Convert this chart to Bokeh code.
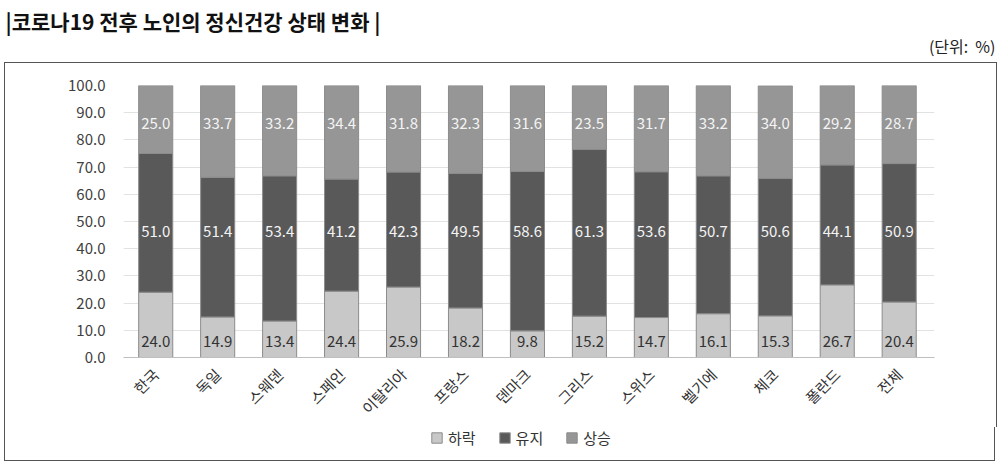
import math
from bokeh.plotting import figure
from bokeh.layouts import column
from bokeh.models import (Range1d, FixedTicker, NumeralTickFormatter, Label,
                          Legend, LegendItem, ColumnDataSource)
from bokeh.core.properties import value
from bokeh.embed import file_html
from bokeh.resources import INLINE

# 데이터
countries = ["한국", "독일", "스웨덴", "스페인", "이탈리아", "프랑스", "덴마크",
             "그리스", "스위스", "벨기에", "체코", "폴란드", "전체"]
down = [24.0, 14.9, 13.4, 24.4, 25.9, 18.2, 9.8, 15.2, 14.7, 16.1, 15.3, 26.7, 20.4]
keep = [51.0, 51.4, 53.4, 41.2, 42.3, 49.5, 58.6, 61.3, 53.6, 50.7, 50.6, 44.1, 50.9]
up = [25.0, 33.7, 33.2, 34.4, 31.8, 32.3, 31.6, 23.5, 31.7, 33.2, 34.0, 29.2, 28.7]
series = ["하락", "유지", "상승"]
colors = ["#c8c8c8", "#595959", "#969696"]
y_ticks = [0, 10, 20, 30, 40, 50, 60, 70, 80, 90, 100]

FONT = "Noto Sans CJK KR"
BORDER = "1px solid #555555"

# 제목 영역
head = figure(width=1000, height=62, x_range=Range1d(0, 1000), y_range=Range1d(0, 62),
              x_axis_type=None, y_axis_type=None, toolbar_location=None,
              output_backend="svg", min_border=0, frame_align=False)
head.outline_line_color = None
head.xgrid.visible = False
head.ygrid.visible = False
head.add_layout(Label(x=5, y=42, text="|코로나19 전후 노인의 정신건강 상태 변화 |",
                      text_font=FONT, text_font_size="21px", text_font_style="bold",
                      text_baseline="middle", text_color="#111111"))
head.add_layout(Label(x=995, y=17, text="(단위:\u00a0\u00a0%)", text_font=FONT,
                      text_font_size="16px", text_align="right",
                      text_baseline="middle", text_color="#222222"))

# 차트
idx = list(range(len(countries)))
src = ColumnDataSource(dict(x=idx, 하락=down, 유지=keep, 상승=up))

p = figure(frame_width=809, frame_height=271,
           x_range=Range1d(-0.52, len(countries) - 0.43), y_range=Range1d(0, 100),
           toolbar_location=None, output_backend="svg", frame_align=False,
           min_border_left=118, min_border_right=64, min_border_top=22,
           min_border_bottom=64,
           styles={"border": BORDER, "border-bottom": "none", "margin-left": "4px"})
p.outline_line_color = None

rs = p.vbar_stack(series, x="x", width=0.55, source=src, fill_color=colors,
                  line_color="#8c8c8c", line_width=1)

# 값 라벨
label_y = [5.9, 46.3, 86.0]
label_colors = ["#333333", "#f4f4f4", "#f4f4f4"]
for vals, ly, lc in zip([down, keep, up], label_y, label_colors):
    p.text(x=idx, y=[ly] * len(idx), text=[f"{v:.1f}" for v in vals],
           text_font=value(FONT), text_font_size="15px", text_align="center",
           text_baseline="middle", text_color=lc)

p.yaxis.ticker = FixedTicker(ticks=y_ticks)
p.yaxis.formatter = NumeralTickFormatter(format="0.0")
p.yaxis.axis_line_color = None
p.yaxis.major_tick_line_color = None
p.yaxis.minor_tick_line_color = None
p.yaxis.major_label_text_font = FONT
p.yaxis.major_label_text_font_size = "15px"
p.yaxis.major_label_text_color = "#404040"
p.yaxis.major_label_standoff = 12

p.xaxis.ticker = FixedTicker(ticks=idx)
p.xaxis.major_label_overrides = {i: c for i, c in enumerate(countries)}
p.xaxis.major_label_orientation = math.pi / 4
p.xaxis.axis_line_color = "#bfbfbf"
p.xaxis.major_tick_line_color = None
p.xaxis.minor_tick_line_color = None
p.xaxis.major_label_text_font = FONT
p.xaxis.major_label_text_font_size = "15px"
p.xaxis.major_label_text_color = "#333333"
p.xaxis.major_label_standoff = 8

p.xgrid.visible = False
p.ygrid.grid_line_color = "#e2e2e2"

# 범례 (차트 테두리 아래쪽 부분) - 같은 데이터를 보이지 않는 범위에 그려 범례 견본으로 사용
leg = figure(width=991, height=34, x_range=Range1d(0, 991), y_range=Range1d(200, 234),
             x_axis_type=None, y_axis_type=None, toolbar_location=None,
             output_backend="svg", min_border=0, frame_align=False,
             styles={"border": BORDER, "border-top": "none", "margin-left": "4px"})
leg.outline_line_color = None
leg.xgrid.visible = False
leg.ygrid.visible = False
swatches = leg.vbar_stack(series, x="x", width=0.55, source=src, fill_color=colors,
                          line_color="#8c8c8c", line_width=1)
legend = Legend(items=[LegendItem(label=s, renderers=[r]) for s, r in zip(series, swatches)],
                orientation="horizontal", location=(425, 13),
                label_text_font=FONT, label_text_font_size="15px",
                label_text_color="#333333", glyph_width=13, glyph_height=13,
                spacing=22, border_line_color=None, background_fill_alpha=0,
                margin=0, padding=4)
leg.add_layout(legend)

layout = column(head, p, leg, spacing=0)
open("out.html", "w").write(file_html(layout, INLINE))
